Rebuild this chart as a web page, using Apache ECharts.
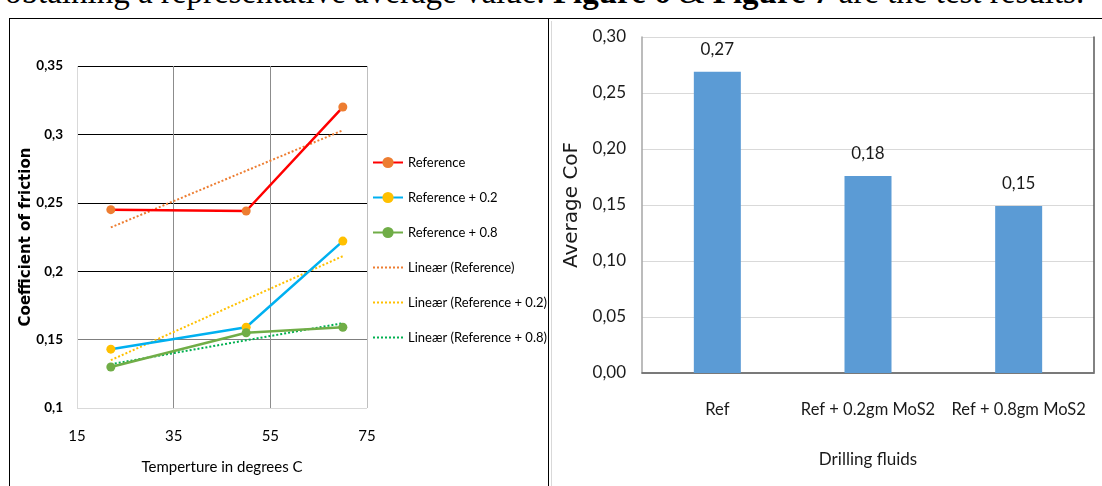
<!DOCTYPE html>
<html>
<head>
<meta charset="utf-8">
<script src="https://cdn.jsdelivr.net/npm/echarts@6/dist/echarts.min.js"></script>
<style>
  html, body { margin: 0; padding: 0; background: #fff; }
  #page { position: relative; width: 1102px; height: 486px; overflow: hidden; background: #fff; }
  #cap { position: absolute; left: 5px; top: -24px; font-family: 'Liberation Serif', 'Times New Roman', serif; font-size: 33px; line-height: 33px; white-space: nowrap; color: #000; }
  #frame { position: absolute; left: 9px; top: 18px; width: 1100px; height: 490px; border-top: 1.5px solid #000; border-left: 1.5px solid #000; }
  #divider { position: absolute; left: 548px; top: 18px; height: 490px; border-left: 1.5px solid #000; }
  #rframe { position: absolute; left: 551px; top: 21px; height: 490px; border-left: 1px solid #d9d9d9; }
  #chart { position: absolute; left: 0; top: 0; width: 1102px; height: 486px; }
</style>
</head>
<body>
<div id="page">
  <div id="cap">obtaining a representative average value. <b>Figure 6</b> &amp; <b>Figure 7</b> are the test results.</div>
  <div id="frame"></div>
  <div id="divider"></div>
  <div id="rframe"></div>
  <div id="chart"></div>
</div>
<script>
// ---- Left chart data (Figure 6) ----
const temps = [22, 50, 70];
const cofRef = [0.245, 0.244, 0.32];
const cofRef02 = [0.143, 0.159, 0.222];
const cofRef08 = [0.130, 0.155, 0.159];
// linear trend line end points
const trendX = [22, 70];
const trendRef = [0.232, 0.303];
const trendRef02 = [0.135, 0.211];
const trendRef08 = [0.132, 0.162];
const lineNames = ['Reference', 'Reference + 0.2', 'Reference + 0.8',
  'Lineær (Reference)', 'Lineær (Reference + 0.2)', 'Lineær (Reference + 0.8)'];

// ---- Right chart data (Figure 7) ----
const fluids = ['Ref', 'Ref + 0.2gm MoS2', 'Ref + 0.8gm MoS2'];
const avgCof = [0.269, 0.176, 0.149];

const HUM = "Lato, 'Liberation Sans', sans-serif";
const pairs = (xs, ys) => xs.map((x, i) => [x, ys[i]]);
const comma = v => String(+(+v).toFixed(2)).replace('.', ',');
const comma2 = v => (+v).toFixed(2).replace('.', ',');

const chart = echarts.init(document.getElementById('chart'), null, { renderer: 'canvas' });

function mainLine(name, ys, lineColor, markerColor) {
  return {
    name, type: 'line', xAxisIndex: 0, yAxisIndex: 0,
    data: pairs(temps, ys),
    symbol: 'circle', symbolSize: 9,
    lineStyle: { color: lineColor, width: 2.5 },
    itemStyle: { color: markerColor },
    z: 3
  };
}
function trendLine(name, ys, color) {
  return {
    name, type: 'line', xAxisIndex: 0, yAxisIndex: 0,
    data: pairs(trendX, ys),
    symbol: 'none', showSymbol: false,
    lineStyle: { color, width: 2, type: [2, 2] },
    itemStyle: { color },
    z: 2
  };
}

chart.setOption({
  animation: false,
  backgroundColor: 'transparent',
  textStyle: { fontFamily: HUM },
  grid: [
    { left: 77, top: 66, width: 290, height: 342 },
    { left: 642, top: 37, width: 452, height: 336 }
  ],
  legend: {
    data: lineNames.map((n, i) => i < 3 ? { name: n } : { name: n, itemStyle: { opacity: 0 } }),
    orient: 'vertical',
    left: 372, top: 156, padding: 0,
    itemWidth: 30, itemHeight: 14, itemGap: 22,
    textStyle: { fontFamily: HUM, fontSize: 13, color: '#000' }
  },
  xAxis: [
    {
      type: 'value', gridIndex: 0, min: 15, max: 75, interval: 20,
      axisLine: { show: false }, axisTick: { show: false },
      axisLabel: { fontFamily: HUM, fontSize: 15, color: '#000', margin: 21 },
      splitLine: { show: true, lineStyle: { color: ['#d9d9d9', '#8c8c8c', '#8c8c8c', '#bfbfbf'], width: 1 } },
      name: 'Temperture in degrees C', nameLocation: 'middle', nameGap: 52, nameMoveOverlap: false,
      nameTextStyle: { fontFamily: HUM, fontSize: 15, color: '#000' }
    },
    {
      type: 'category', gridIndex: 1, data: fluids,
      axisLine: { show: true, lineStyle: { color: '#d9d9d9', width: 1.5 } },
      axisTick: { show: false },
      axisLabel: { fontFamily: HUM, fontSize: 16.5, color: '#1a1a1a', margin: 28, interval: 0 },
      name: 'Drilling fluids', nameLocation: 'middle', nameGap: 78, nameMoveOverlap: false,
      nameTextStyle: { fontFamily: HUM, fontSize: 17, color: '#1a1a1a' }
    },
    {
      type: 'category', gridIndex: 1, data: fluids, position: 'top',
      axisLine: { show: true, lineStyle: { color: '#595959', width: 1.5 } },
      axisTick: { show: false }, axisLabel: { show: false }, splitLine: { show: false }
    }
  ],
  yAxis: [
    {
      type: 'value', gridIndex: 0, min: 0.1, max: 0.35, interval: 0.05,
      axisLine: { show: false }, axisTick: { show: false },
      axisLabel: { fontFamily: HUM, fontSize: 13.5, fontWeight: 'bold', color: '#000', margin: 14, formatter: comma },
      splitLine: { show: true, lineStyle: { color: ['#d9d9d9', '#7f7f7f', '#000', '#000', '#000', '#000'], width: 1 } },
      name: 'Coefficient of friction', nameLocation: 'middle', nameGap: 43, nameMoveOverlap: false,
      nameTextStyle: { fontFamily: "'DejaVu Sans', sans-serif", fontSize: 15, fontWeight: 'bold', color: '#000' }
    },
    {
      type: 'value', gridIndex: 1, min: 0, max: 0.3, interval: 0.05,
      axisLine: { show: true, lineStyle: { color: '#a6a6a6', width: 1.5 } },
      axisTick: { show: false },
      axisLabel: { fontFamily: HUM, fontSize: 17, color: '#1a1a1a', margin: 16, formatter: comma2 },
      splitLine: { show: true, lineStyle: { color: '#d9d9d9', width: 1 } },
      name: 'Average CoF', nameLocation: 'middle', nameGap: 60, nameMoveOverlap: false,
      nameTextStyle: { fontFamily: "'DejaVu Sans', sans-serif", fontSize: 20, color: '#1a1a1a' }
    },
    {
      type: 'value', gridIndex: 1, min: 0, max: 0.3, interval: 0.05, position: 'right',
      axisLine: { show: true, lineStyle: { color: '#595959', width: 1.5 } },
      axisTick: { show: false }, axisLabel: { show: false }, splitLine: { show: false }
    }
  ],
  series: [
    mainLine(lineNames[0], cofRef, '#ff0000', '#ed7d31'),
    mainLine(lineNames[1], cofRef02, '#00b0f0', '#ffc000'),
    mainLine(lineNames[2], cofRef08, '#70ad47', '#70ad47'),
    trendLine(lineNames[3], trendRef, '#ed7d31'),
    trendLine(lineNames[4], trendRef02, '#ffc000'),
    trendLine(lineNames[5], trendRef08, '#00b050'),
    {
      name: 'Average CoF', type: 'bar', xAxisIndex: 1, yAxisIndex: 1,
      data: avgCof, barWidth: 47,
      itemStyle: { color: '#5b9bd5' },
      label: { show: true, position: 'top', distance: 14, fontFamily: HUM, fontSize: 17, color: '#1a1a1a', formatter: p => comma2(p.value) }
    }
  ]
});
</script>
</body>
</html>
